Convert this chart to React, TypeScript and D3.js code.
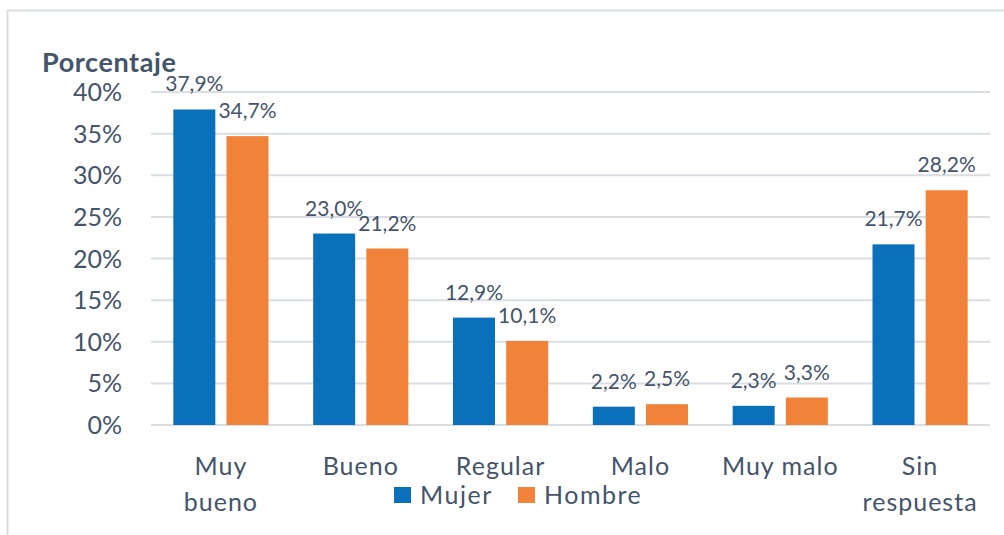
import React, { useRef, useEffect } from 'react';
import * as d3 from 'd3';

const categories = ['Muy bueno', 'Bueno', 'Regular', 'Malo', 'Muy malo', 'Sin respuesta'];
const categoryLines = [['Muy', 'bueno'], ['Bueno'], ['Regular'], ['Malo'], ['Muy malo'], ['Sin', 'respuesta']];
const mujer = [37.9, 23.0, 12.9, 2.2, 2.3, 21.7];
const hombre = [34.7, 21.2, 10.1, 2.5, 3.3, 28.2];
const series = ['Mujer', 'Hombre'];
const yTicks = [0, 5, 10, 15, 20, 25, 30, 35, 40];

const colors = ['#0B70BA', '#F0823A'];
const textColor = '#44546A';
const font = 'Lato, "Noto Sans", sans-serif';

const App = () => {
    const ref = useRef<SVGSVGElement>(null);

    useEffect(() => {
        const width = 1004;
        const height = 535;
        const svg = d3.select(ref.current);
        svg.selectAll('*').remove();
        svg.attr('width', width).attr('height', height);

        const margin = { top: 92, left: 151, right: 14, bottom: 110 };

        // outer frame
        svg.append('path')
            .attr('d', `M7.5,${height} L7.5,10.5 L${width},10.5`)
            .attr('fill', 'none')
            .attr('stroke', '#D9DEE4')
            .attr('stroke-width', 2);

        const x = d3.scaleBand()
            .domain(categories)
            .range([margin.left, width - margin.right]);

        const y = d3.scaleLinear()
            .domain([0, 40])
            .range([height - margin.bottom, margin.top]);

        const x1 = d3.scaleBand()
            .domain(series)
            .range([0, x.bandwidth()])
            .paddingInner(0.21)
            .paddingOuter(0.42);

        // gridlines
        svg.append('g')
            .selectAll('line')
            .data(yTicks)
            .enter()
            .append('line')
            .attr('x1', margin.left)
            .attr('x2', width - margin.right)
            .attr('y1', d => y(d))
            .attr('y2', d => y(d))
            .attr('stroke', '#D9DEE4')
            .attr('stroke-width', 2);

        // y tick labels
        svg.append('g')
            .selectAll('text')
            .data(yTicks)
            .enter()
            .append('text')
            .attr('x', 122)
            .attr('y', d => y(d) + 9)
            .attr('text-anchor', 'end')
            .attr('fill', textColor)
            .style('font-family', font)
            .style('font-size', '25px')
            .text(d => `${d}%`);

        // axis title
        svg.append('text')
            .attr('x', 42)
            .attr('y', 72)
            .attr('fill', textColor)
            .style('font-family', font)
            .style('font-size', '27px')
            .style('font-weight', 'bold')
            .style('letter-spacing', '0.6px')
            .text('Porcentaje');

        const rows = categories.map((c, i) => ({ cat: c, values: [mujer[i], hombre[i]] }));

        const groups = svg.append('g')
            .selectAll('g')
            .data(rows)
            .enter()
            .append('g')
            .attr('transform', d => `translate(${x(d.cat)},0)`);

        groups.selectAll('rect')
            .data(d => d.values.map((v, j) => ({ key: series[j], v, j })))
            .enter()
            .append('rect')
            .attr('x', d => x1(d.key) ?? 0)
            .attr('width', x1.bandwidth())
            .attr('y', d => y(d.v))
            .attr('height', d => y(0) - y(d.v))
            .attr('fill', d => colors[d.j]);

        // value labels
        groups.selectAll('text.val')
            .data(d => d.values.map((v, j) => ({ key: series[j], v, j })))
            .enter()
            .append('text')
            .attr('class', 'val')
            .attr('x', d => (x1(d.key) ?? 0) + x1.bandwidth() / 2)
            .attr('y', d => y(d.v) - 18)
            .attr('text-anchor', 'middle')
            .attr('fill', textColor)
            .style('font-family', font)
            .style('font-size', '21px')
            .text(d => d.v.toFixed(1).replace('.', ',') + '%');

        // category labels
        groups.each(function (d, i) {
            const g = d3.select(this);
            categoryLines[i].forEach((line, k) => {
                g.append('text')
                    .attr('x', x.bandwidth() / 2)
                    .attr('y', y(0) + 50 + k * 36)
                    .attr('text-anchor', 'middle')
                    .attr('fill', textColor)
                    .style('font-family', font)
                    .style('font-size', '25px')
                    .style('letter-spacing', '1px')
                    .text(line);
            });
        });

        // legend
        const legend = svg.append('g').attr('transform', 'translate(394,487)');
        const offsets = [0, 124];
        series.forEach((s, j) => {
            legend.append('rect')
                .attr('x', offsets[j])
                .attr('y', 0)
                .attr('width', 17)
                .attr('height', 16)
                .attr('fill', colors[j]);
            legend.append('text')
                .attr('x', offsets[j] + 26)
                .attr('y', 17)
                .attr('fill', textColor)
                .style('font-family', font)
                .style('font-size', '25px')
                .style('letter-spacing', '1.5px')
                .text(s);
        });
    }, []);

    return (
        <div style={{ position: 'absolute', left: 0, top: 0 }}>
            <svg ref={ref} style={{ display: 'block', background: '#fff' }}></svg>
        </div>
    );
};

export default App;
